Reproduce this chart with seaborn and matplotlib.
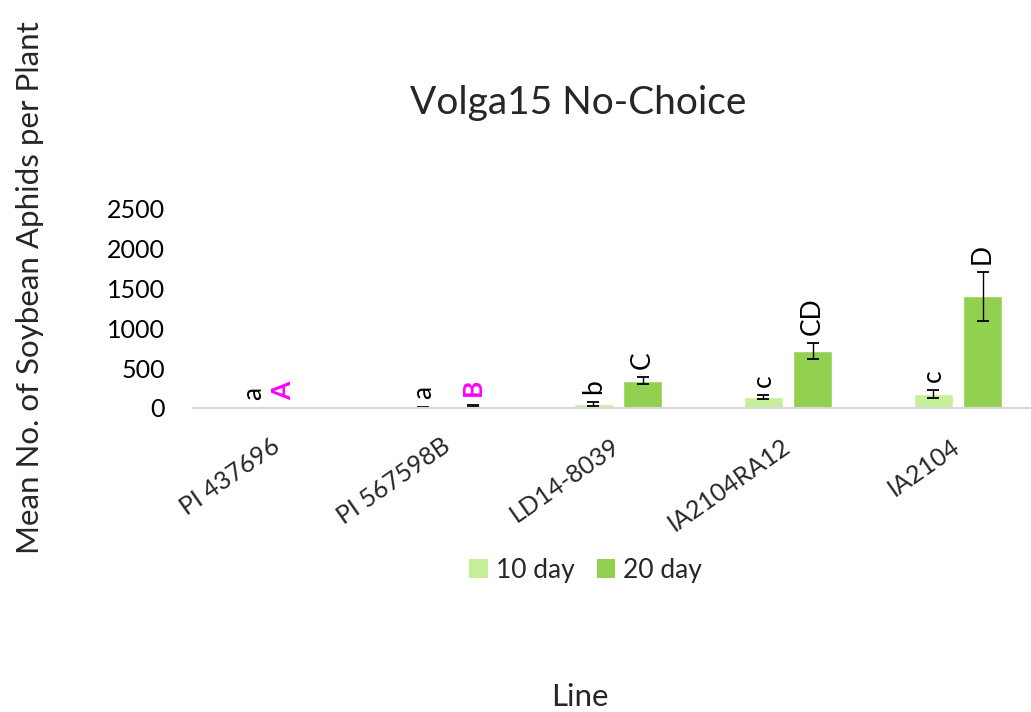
import pandas as pd
import matplotlib.pyplot as plt
import seaborn as sns
from matplotlib.patches import Patch
from matplotlib.transforms import offset_copy, ScaledTranslation

# Values
lines = ["PI 437696", "PI 567598B", "LD14-8039", "IA2104RA12", "IA2104"]
days = ["10 day", "20 day"]
mean_10 = [0, 5, 45, 135, 176]
mean_20 = [0, 25, 345, 712, 1403]
err_10 = [0, 6, 24, 25, 46]
err_20 = [0, 15, 45, 98, 305]
letters_10 = ["a", "a", "b", "c", "c"]
letters_20 = ["A", "B", "C", "CD", "D"]
highlight = ["A", "B"]   # drawn bold magenta in the original
yticks = [0, 500, 1000, 1500, 2000, 2500]

colors = ["#C5EF9A", "#92D050"]
magenta = "#FF00FF"

df = pd.DataFrame({
    "Line": lines * 2,
    "Day": [days[0]] * len(lines) + [days[1]] * len(lines),
    "Mean": mean_10 + mean_20,
})

sns.set_style("white")
plt.rcParams["font.family"] = ["Lato", "DejaVu Sans"]

fig = plt.figure(figsize=(10.31, 7.12), dpi=100)
ax = fig.add_axes([0.1872, 0.427, 0.8244, 0.2795])

sns.barplot(data=df, x="Line", y="Mean", hue="Day", palette=colors,
            saturation=1, width=0.58, gap=0.2, errorbar=None,
            legend=False, ax=ax)

# error bars and significance letters on top of each bar
for cont, errs, letters in zip(ax.containers, [err_10, err_20], [letters_10, letters_20]):
    for bar, e, let in zip(cont.patches, errs, letters):
        x = bar.get_x() + bar.get_width() / 2
        h = bar.get_height()
        if e > 0:
            ax.errorbar(x, h, yerr=e, color="black", lw=1.0, capsize=4, capthick=1.3)
        hl = let in highlight
        # the "A" label sits a little left of its bar in the original
        tr = offset_copy(ax.transData, fig=fig, x=(-14 if let == "A" else 0), y=6, units="points")
        ax.text(x, h + e, let, rotation=90, ha="center", va="bottom",
                fontsize=19, transform=tr,
                color=magenta if hl else "black",
                fontweight="bold" if hl else "normal", clip_on=False)

ax.set_xlim(-0.5, len(lines) - 0.5)
ax.set_ylim(0, 2500)
ax.set_yticks(yticks)
ax.set_yticklabels([str(v) for v in yticks])
ax.tick_params(axis="y", length=0, pad=20, labelsize=18, labelcolor="#000000")
ax.tick_params(axis="x", length=0, pad=19, labelsize=18)
shift = ScaledTranslation(-0.07, 0, fig.dpi_scale_trans)
for lab in ax.get_xticklabels():
    lab.set_rotation(35)
    lab.set_ha("right")
    lab.set_va("top")
    lab.set_rotation_mode("anchor")
    lab.set_transform(lab.get_transform() + shift)
ax.set_xlabel("")
ax.set_ylabel("")
for s in ["left", "right", "top"]:
    ax.spines[s].set_visible(False)
ax.spines["bottom"].set_color("#D9D9D9")
ax.spines["bottom"].set_linewidth(1.5)

fig.text(0.561, 0.855, "Volga15 No-Choice", ha="center", va="center", fontsize=28)
fig.text(0.5626, 0.021, "Line", ha="center", va="center", fontsize=22.5)
fig.text(0.029, 0.596, "Mean No. of Soybean Aphids per Plant", rotation=90,
         ha="center", va="center", fontsize=22.5)

handles = [Patch(facecolor=c, edgecolor="none") for c in colors]
fig.legend(handles, days, loc="center", bbox_to_anchor=(0.568, 0.199), ncol=2,
           frameon=False, fontsize=19, handlelength=0.7, handleheight=0.7,
           handletextpad=0.3, columnspacing=0.85)

fig.savefig("out.png", dpi=100)
